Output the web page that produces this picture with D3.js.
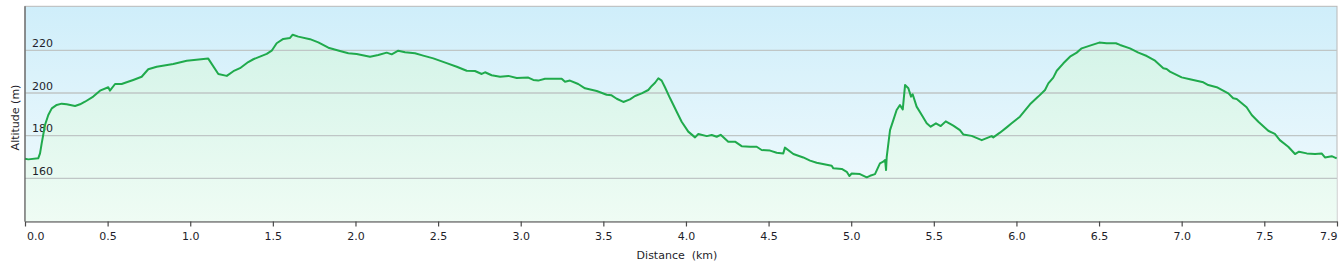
<!DOCTYPE html>
<html lang="en">

<head>
    <meta charset="UTF-8">
    <title>Altitude profile</title>
    <script src="https://d3js.org/d3.v7.min.js"></script>
    <style>
        body {
            margin: 0;
            background: #fff;
        }

        text {
            font-family: "DejaVu Sans", Verdana, sans-serif;
            font-size: 11px;
            fill: #1e1e2a;
        }

        .grid line {
            stroke: #bfc6c6;
            stroke-width: 1.3px;
        }

        .profile {
            fill: none;
            stroke: #20aa4c;
            stroke-width: 2px;
            stroke-linejoin: round;
        }
    </style>
</head>

<body>
    <script>
        // distance along the track (km) and altitude (m)
        var distKm = [
            0.000, 0.020, 0.080, 0.091, 0.101, 0.121, 0.141, 0.162, 0.192, 0.222,
            0.252, 0.303, 0.333, 0.363, 0.413, 0.454, 0.504, 0.514, 0.545, 0.585,
            0.615, 0.655, 0.706, 0.746, 0.797, 0.897, 0.979, 1.109, 1.170, 1.221,
            1.261, 1.301, 1.351, 1.382, 1.463, 1.493, 1.523, 1.563, 1.604, 1.620,
            1.654, 1.725, 1.775, 1.836, 1.906, 1.957, 2.007, 2.088, 2.138, 2.189,
            2.219, 2.259, 2.300, 2.360, 2.410, 2.471, 2.552, 2.613, 2.673, 2.723,
            2.764, 2.784, 2.824, 2.875, 2.925, 2.976, 3.046, 3.076, 3.106, 3.147,
            3.248, 3.268, 3.298, 3.348, 3.389, 3.460, 3.520, 3.550, 3.581, 3.621,
            3.661, 3.692, 3.732, 3.772, 3.793, 3.813, 3.833, 3.853, 3.873, 3.904,
            3.944, 3.974, 4.014, 4.055, 4.075, 4.126, 4.156, 4.186, 4.210, 4.256,
            4.297, 4.337, 4.388, 4.428, 4.458, 4.509, 4.549, 4.589, 4.599, 4.650,
            4.710, 4.751, 4.791, 4.882, 4.892, 4.943, 4.973, 4.989, 5.003, 5.053,
            5.094, 5.114, 5.144, 5.174, 5.194, 5.205, 5.211, 5.215, 5.235, 5.255,
            5.275, 5.295, 5.312, 5.326, 5.346, 5.362, 5.372, 5.396, 5.427, 5.457,
            5.481, 5.513, 5.542, 5.572, 5.618, 5.658, 5.678, 5.729, 5.790, 5.850,
            5.860, 5.900, 5.941, 5.971, 6.021, 6.082, 6.132, 6.173, 6.193, 6.223,
            6.244, 6.284, 6.324, 6.365, 6.395, 6.445, 6.501, 6.546, 6.602, 6.627,
            6.687, 6.738, 6.789, 6.839, 6.889, 6.909, 6.929, 7.000, 7.050, 7.131,
            7.161, 7.212, 7.282, 7.312, 7.333, 7.393, 7.424, 7.464, 7.524, 7.564,
            7.594, 7.645, 7.686, 7.710, 7.757, 7.807, 7.847, 7.867, 7.908, 7.938
        ];
        var altM = [
            169.2, 168.9, 169.4, 171.7, 176.4, 185.0, 189.7, 192.8, 194.4, 195.0,
            194.7, 193.9, 194.7, 195.9, 198.3, 201.1, 202.7, 201.1, 204.2, 204.2,
            205.0, 206.1, 207.6, 211.1, 212.3, 213.6, 215.1, 216.1, 208.9, 208.0,
            210.2, 211.6, 214.5, 215.8, 218.3, 219.8, 223.3, 225.3, 225.8, 227.3,
            226.4, 225.2, 223.7, 221.2, 219.7, 218.6, 218.3, 217.0, 217.8, 218.9,
            218.1, 219.8, 219.1, 218.6, 217.5, 216.2, 214.0, 212.3, 210.4, 210.3,
            208.9, 209.7, 208.3, 207.6, 208.0, 207.0, 207.2, 206.1, 205.8, 206.7,
            206.7, 205.3, 205.8, 204.2, 202.2, 200.9, 199.2, 198.9, 197.3, 195.8,
            197.0, 198.6, 199.8, 201.4, 203.3, 204.8, 206.9, 205.8, 202.7, 197.5,
            191.2, 186.5, 181.9, 179.2, 180.8, 179.8, 180.3, 179.5, 180.4, 177.2,
            177.2, 175.1, 174.8, 174.8, 173.3, 173.0, 172.0, 171.7, 174.4, 171.4,
            169.8, 168.3, 167.3, 165.9, 164.7, 164.4, 163.1, 161.1, 162.3, 162.0,
            160.5, 161.2, 162.0, 167.0, 167.8, 168.6, 163.9, 170.1, 182.6, 187.3,
            192.0, 194.3, 192.3, 203.7, 202.2, 198.3, 199.4, 193.6, 189.7, 185.8,
            184.2, 185.8, 184.5, 186.7, 184.7, 182.6, 180.6, 179.9, 177.9, 179.8,
            179.2, 181.4, 183.9, 185.8, 188.9, 194.7, 198.3, 201.4, 204.5, 207.2,
            210.4, 213.9, 217.0, 218.9, 220.9, 222.2, 223.6, 223.3, 223.3, 222.5,
            220.9, 218.9, 217.3, 215.1, 211.6, 211.2, 210.0, 207.3, 206.4, 205.0,
            203.7, 202.7, 199.8, 197.5, 197.2, 193.3, 189.7, 186.5, 182.3, 180.8,
            177.9, 174.8, 171.4, 172.5, 171.7, 171.4, 171.7, 169.8, 170.4, 169.4
        ];

        var xTicks = [0, 0.5, 1, 1.5, 2, 2.5, 3, 3.5, 4, 4.5, 5, 5.5, 6, 6.5, 7, 7.5, 7.94];
        var yTicks = [160, 180, 200, 220];

        var profile = distKm.map(function (d, i) { return { km: d, alt: altM[i] }; });

        // plot box (pixel edges of the framed area)
        var W = 1343, H = 266;
        var plotLeft = 25, plotRight = 1337, plotTop = 6.3, plotBottom = 221.5;

        var x = d3.scaleLinear().domain([0, 7.94]).range([plotLeft, plotRight]);
        var y = d3.scaleLinear().domain([139.8, 240.6]).range([plotBottom, plotTop]);

        var svg = d3.select("body")
            .append("svg")
            .attr("width", W)
            .attr("height", H);

        // gradients for the sky and for the area under the track
        var defs = svg.append("defs");
        var sky = defs.append("linearGradient")
            .attr("id", "sky")
            .attr("gradientUnits", "userSpaceOnUse")
            .attr("x1", 0).attr("y1", plotTop).attr("x2", 0).attr("y2", plotBottom);
        sky.append("stop").attr("offset", "0%").attr("stop-color", "#cfeefa");
        sky.append("stop").attr("offset", "100%").attr("stop-color", "#f3fbfd");

        var ground = defs.append("linearGradient")
            .attr("id", "ground")
            .attr("gradientUnits", "userSpaceOnUse")
            .attr("x1", 0).attr("y1", plotTop).attr("x2", 0).attr("y2", plotBottom);
        ground.append("stop").attr("offset", "0%").attr("stop-color", "#cff2e6");
        ground.append("stop").attr("offset", "100%").attr("stop-color", "#effcf4");

        svg.append("rect")
            .attr("x", plotLeft)
            .attr("y", plotTop)
            .attr("width", plotRight - plotLeft)
            .attr("height", plotBottom - plotTop)
            .attr("fill", "url(#sky)")
            .attr("stroke", "#b8b8b8")
            .attr("stroke-width", 1);

        // area under the profile
        var area = d3.area()
            .x(function (d) { return x(d.km); })
            .y0(plotBottom)
            .y1(function (d) { return y(d.alt); });

        svg.append("path")
            .datum(profile)
            .attr("fill", "url(#ground)")
            .attr("d", area);

        // horizontal grid lines
        svg.append("g")
            .attr("class", "grid")
            .selectAll("line")
            .data(yTicks)
            .enter().append("line")
            .attr("x1", plotLeft)
            .attr("x2", plotRight)
            .attr("y1", function (d) { return y(d); })
            .attr("y2", function (d) { return y(d); });

        // altitude labels sit just above their grid line, inside the plot
        svg.append("g")
            .selectAll("text")
            .data(yTicks)
            .enter().append("text")
            .attr("x", 32)
            .attr("y", function (d) { return y(d) - 3.3; })
            .text(function (d) { return d; });

        // the track
        var line = d3.line()
            .x(function (d) { return x(d.km); })
            .y(function (d) { return y(d.alt); });

        svg.append("path")
            .datum(profile)
            .attr("class", "profile")
            .attr("d", line);

        // left axis line
        svg.append("line")
            .attr("x1", plotLeft).attr("x2", plotLeft)
            .attr("y1", plotTop).attr("y2", plotBottom)
            .attr("stroke", "#5a5a5a")
            .attr("stroke-width", 1.2);

        // bottom axis
        var xAxis = svg.append("g")
            .attr("transform", "translate(0," + plotBottom + ")")
            .call(d3.axisBottom(x)
                .tickValues(xTicks)
                .tickSize(5)
                .tickSizeOuter(0)
                .tickFormat(d3.format(".1f")));

        xAxis.select(".domain").attr("stroke", "#4a4a4a").attr("stroke-width", 1.2);
        xAxis.selectAll(".tick line").attr("stroke", "#4a4a4a").attr("stroke-width", 1.2);
        xAxis.selectAll(".tick text")
            .attr("y", 18.5)
            .attr("dy", null)
            .style("font-size", "11px")
            .style("font-family", "'DejaVu Sans', Verdana, sans-serif")
            .attr("fill", "#1e1e2a")
            .attr("text-anchor", function (d, i) {
                if (i === 0) return "start";
                if (i === xTicks.length - 1) return "end";
                return "middle";
            })
            .attr("x", function (d, i) { return i === 0 ? 1.5 : 0; });

        // axis titles
        svg.append("text")
            .attr("x", 677)
            .attr("y", 258.5)
            .attr("text-anchor", "middle")
            .style("white-space", "pre")
            .text("Distance  (km)");

        svg.append("text")
            .attr("transform", "translate(18.5,117.5) rotate(-90)")
            .attr("text-anchor", "middle")
            .text("Altitude (m)");
    </script>
</body>

</html>
